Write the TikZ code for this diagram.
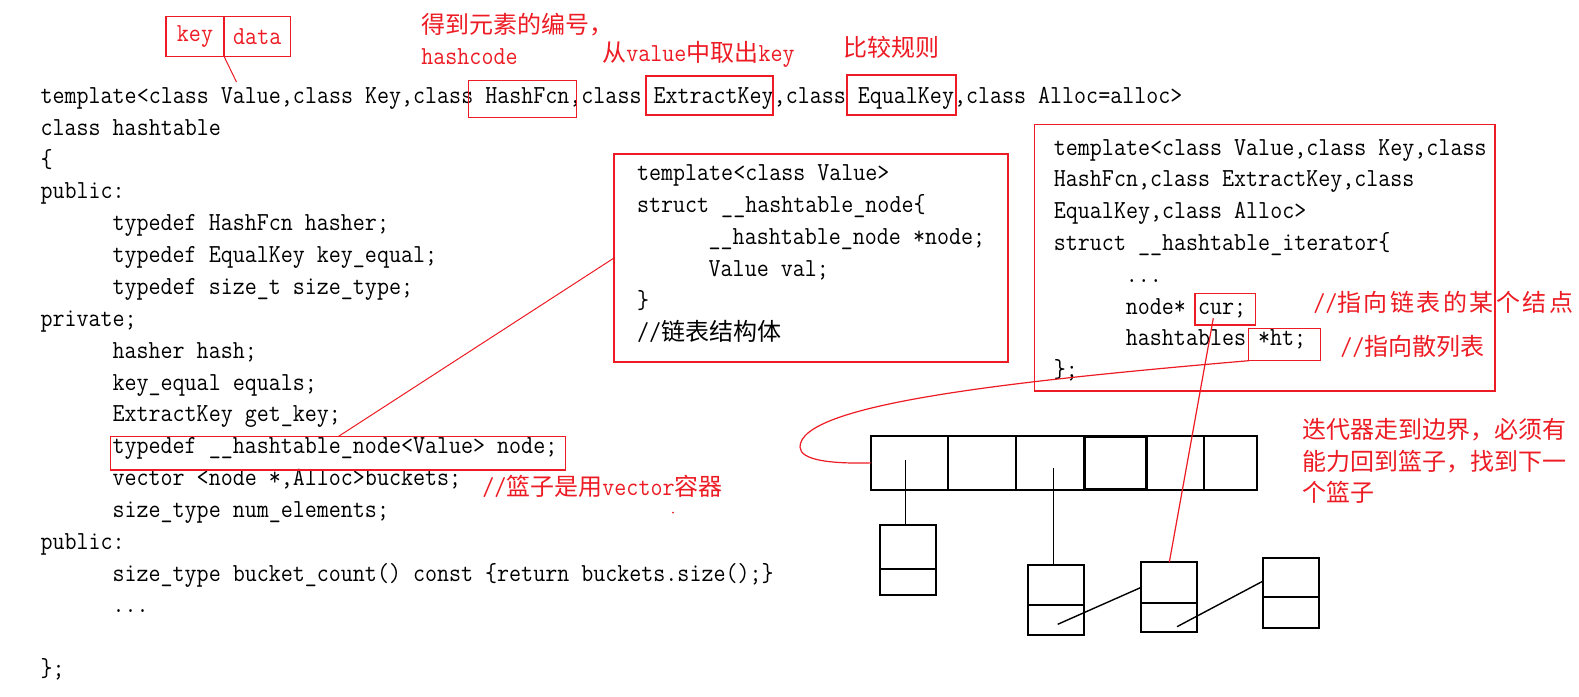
\documentclass[tikz,border=0pt]{standalone}
\usepackage{fontspec}
\setmonofont[FakeStretch=0.8976]{Latin Modern Mono}
\newfontfamily\cjk{Noto Sans CJK SC}
\usetikzlibrary{calc}
\definecolor{paintred}{RGB}{237,28,36}
\newcommand\codefont{\ttfamily\fontsize{13pt}{16pt}\selectfont}
\newcommand\hz{\cjk\fontsize{12pt}{16pt}\selectfont}
\newcommand\wk{\hskip1.25pt}

\begin{document}
\begin{tikzpicture}[x=0.5pt,y=-0.5pt,
  code/.style={font=\codefont,anchor=base west,inner sep=0pt},
  note/.style={code,text=paintred},
  redbox/.style={draw=paintred,line width=0.75pt,anchor=north west,inner sep=0pt,outer sep=0pt},
  redline/.style={draw=paintred,line width=0.6pt},
  cell/.style={draw=black,line width=1pt,anchor=north west,inner sep=0pt,outer sep=0pt,
    minimum width=28pt,minimum height=35pt},
  pointer/.style={draw=black,line width=0.7pt}]
\fill[white] (0,0) rectangle (1579,696);
\useasboundingbox (0,0) rectangle (1579,696);

% the class itself
\node[code] (ln0) at (40.2,103.3) {template<class Value,class Key,class HashFcn,class ExtractKey,class EqualKey,class Alloc=alloc>};
\node[code] (ln1) at (40.2,135.2) {class hashtable};
\node[code] (ln2) at (40.2,167) {\{};
\node[code] (ln3) at (40.2,198.9) {public:};
\node[code] (ln4) at (112.2,230.7) {typedef HashFcn hasher;};
\node[code] (ln5) at (112.2,262.6) {typedef EqualKey key\_equal;};
\node[code] (ln6) at (112.2,294.4) {typedef size\_t size\_type;};
\node[code] (ln7) at (40.2,326.3) {private;};
\node[code] (ln8) at (112.2,358.1) {hasher hash;};
\node[code] (ln9) at (112.2,390) {key\_equal equals;};
\node[code] (ln10) at (112.2,421.8) {ExtractKey get\_key;};
\node[code] (ln11) at (112.2,453.7) {typedef \_\_hashtable\_node<Value> node;};
\node[code] (ln12) at (112.2,485.5) {vector <node *,Alloc>buckets;};
\node[code] (ln13) at (112.2,517.4) {size\_type num\_elements;};
\node[code] (ln14) at (40.2,549.2) {public:};
\node[code] (ln15) at (112.2,581.1) {size\_type bucket\_count() const \{return buckets.size();\}};
\node[code] (ln16) at (112.2,612.9) {...};
\node[code] (ln18) at (40.2,676.6) {\};};

% template parameters
\node[redbox,text=paintred,font=\codefont,minimum width=29pt,minimum height=20pt] (keycell) at (166,16.3) {key};
\node[redbox,text=paintred,font=\codefont,minimum width=33.25pt,minimum height=20pt] (datacell) at (224,16.3) {data};
\node[redbox,minimum width=54.15pt,minimum height=18.5pt] (hashfcn) at (468.4,80.3) {};
\node[redbox,minimum width=63.5pt,minimum height=19.5pt] (extractkey) at (646,76) {};
\node[redbox,minimum width=54.5pt,minimum height=20pt] (equalkey) at (847,75) {};
\node[redbox,minimum width=227.3pt,minimum height=16.65pt] (typedefbox) at (110.7,436.7) {};
\coordinate (valueword) at (236.5,82);
\draw[redline,line width=0.5pt] (keycell.south east) -- (valueword);

\node[note] (lblhash) at (421,33.3) {\hz 得到元素的编号，};
\node[note] (lblhashcode) at (421,64) {hashcode};
\node[note] (lblextract) at (602,61.5) {{\hz 从}value{\hz 中取出}key};
\node[note] (lblequal) at (843,56.5) {\hz 比较规则};
\node[note] (lblbucket) at (482,495) {//{\hz 篮子是用}vector{\hz 容器}};
\fill[paintred] (673,512.7) circle (1);

% node struct
\node[redbox,minimum width=197pt,minimum height=104pt] (nodestruct) at (614,154) {};
\node[code] (ns0) at (636.7,180) {template<class Value>};
\node[code] (ns1) at (636.7,212) {struct \_\_hashtable\_node\{};
\node[code] (ns2) at (708.3,244) {\_\_hashtable\_node *node;};
\node[code] (ns3) at (708.3,276) {Value val;};
\node[code] (ns4) at (636.7,308) {\}};
\node[code] (ns5) at (636.7,340) {//{\hz 链表结构体}};
\draw[redline,line width=0.5pt] (typedefbox.north) -- (nodestruct.west);

% iterator struct
\node[redbox,minimum width=230.35pt,minimum height=133.35pt] (iterstruct) at (1034.3,124.3) {};
\node[code] (it0) at (1053.5,155) {template<class Value,class Key,class};
\node[code] (it1) at (1053.5,186.8) {HashFcn,class ExtractKey,class};
\node[code] (it2) at (1053.5,218.6) {EqualKey,class Alloc>};
\node[code] (it3) at (1053.5,250.4) {struct \_\_hashtable\_iterator\{};
\node[code] (it4) at (1125.5,282.2) {...};
\node[code] (it5) at (1125.5,314) {node* cur;};
\node[code] (it6) at (1125.5,345.8) {hashtables *ht;};
\node[code] (it7) at (1053.5,377.6) {\};};
\node[redbox,minimum width=30.15pt,minimum height=15.85pt] (curbox) at (1195,293.3) {};
\node[redbox,minimum width=36pt,minimum height=16.2pt] (htbox) at (1248.7,328.3) {};
\node[note] (lblcur) at (1313,311.5) {//{\hz 指\wk 向\wk 链\wk 表\wk 的\wk 某\wk 个\wk 结\wk 点}};
\node[note] (lblht) at (1340,355) {//{\hz 指向散列表}};

% buckets and lists
\node[draw=black,line width=1pt,anchor=north west,inner sep=0pt,outer sep=0pt,
  minimum width=193.15pt,minimum height=27.15pt] (buckets) at (871,435.7) {};
\foreach \x in {948.3,1016.3,1204.3}
  \draw[line width=1pt] (\x,0 |- buckets.north) -- (\x,0 |- buckets.south);
\draw[line width=1.5pt] (1084.3,436.5) rectangle (1146.3,489.3);
\foreach \n/\x/\y/\d in {nodeA/880.4/525.3/44,nodeB/1027.7/565.3/40,nodeC/1141.3/562.3/40.4,nodeD/1262.6/558.3/39}{
  \node[cell] (\n) at (\x,\y) {};
  \draw[line width=1pt] ($(\n.north west)+(0,\d)$) -- ($(\n.north east)+(0,\d)$);
}
\coordinate (bone) at (905.3,460);
\coordinate (bthree) at (1053.3,468.3);
\draw[pointer] (bone) -- (bone |- nodeA.north);
\draw[pointer] (bthree) -- (bthree |- nodeB.north);
\coordinate (bnext) at (1057.7,624.3);
\coordinate (cnext) at (1177,626.7);
\draw[pointer] (bnext) -- ($(nodeC.west)+(0,-10)$);
\draw[pointer] (cnext) -- ($(nodeD.west)+(0,-12)$);

% iterator pointers
\coordinate (curtail) at (1213.3,318.3);
\draw[redline] (curtail) -- (nodeC.north);
\draw[redline] (htbox.south west) .. controls (1000,382) and (800,405) .. (800,447)
  .. controls (800,460) and (830,464) .. (buckets.west);

\node[note] (lblnote1) at (1302,438.3) {\hz 迭代器走到边界，必须有};
\node[note] (lblnote2) at (1302,470) {\hz 能力回到篮子，找到下一};
\node[note] (lblnote3) at (1302,501.5) {\hz 个篮子};
\end{tikzpicture}
\end{document}
